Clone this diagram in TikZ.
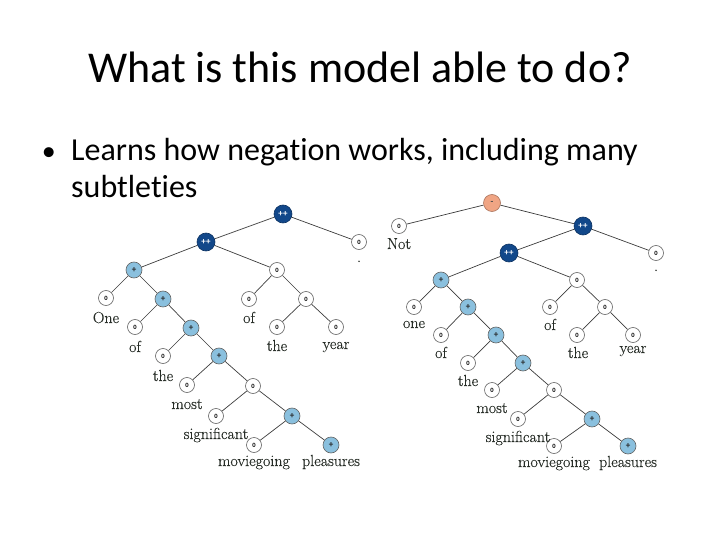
\documentclass[tikz,border=0pt]{standalone}
\usepackage{fontspec}
\setmainfont{Carlito}[Ligatures=NoCommon]
\newfontfamily\lmr{Latin Modern Roman}[FakeBold=0.3]
\definecolor{ppblue}{RGB}{18,72,138}
\definecolor{pblue}{RGB}{138,192,222}
\definecolor{negor}{RGB}{240,165,132}
\definecolor{lblc}{RGB}{38,44,38}
\definecolor{edgec}{RGB}{60,60,60}
\tikzset{
  nd/.style={circle,inner sep=0pt,draw=edgec!80,line width=0.6pt,font=\fontsize{9}{9}\selectfont\bfseries},
  zeronode/.style={nd,fill=white,minimum size=15pt,text=black,font=\fontsize{6.5}{6.5}\selectfont\bfseries},
  posnode/.style={nd,fill=pblue,minimum size=16pt,text=black!85},
  ppnode/.style={nd,fill=ppblue,draw=ppblue!70!black,minimum size=18pt,text=white},
  negnode/.style={nd,fill=negor,draw=negor!70!black,minimum size=17pt,text=black!70},
  lbl/.style={font=\lmr\fontsize{16}{18}\selectfont,text=lblc,anchor=base,inner sep=0pt},
  edge/.style={draw=edgec,line width=0.7pt}
}
\begin{document}
\begin{tikzpicture}[x=1pt,y=-1pt]
\useasboundingbox (0,0) rectangle (720,540);
% title and bullet
\node[anchor=base,font=\fontsize{44}{52}\selectfont] (title) at (360,83) {What is this model able to do?};
\node[anchor=base west,font=\fontsize{32}{38}\selectfont,inner sep=0pt] (b1) at (71,161) {Learns how negation works, including many};
\node[anchor=base east,font=\fontsize{28}{34}\selectfont,inner sep=0pt] (dot) at (56,161) {•};
\node[anchor=base west,font=\fontsize{32}{38}\selectfont,inner sep=0pt] (b2) at (71,197) {subtleties};
% ---------- left tree ----------
\node[ppnode] (Lr) at (283,214) {++};
\node[ppnode] (La) at (206,242) {++};
\node[zeronode] (Lp) at (359,242) {0};
\node[posnode] (Lb) at (134,270) {+};
\node[zeronode] (Lc) at (277,270) {0};
\node[zeronode] (L1) at (106,298) {0};
\node[posnode] (Ld) at (163,299) {+};
\node[zeronode] (L7) at (249,299) {0};
\node[zeronode] (Le) at (306,299) {0};
\node[zeronode] (L2) at (135,327) {0};
\node[posnode] (Lf) at (191,328) {+};
\node[zeronode] (L8) at (277,327) {0};
\node[zeronode] (L9) at (336,327) {0};
\node[zeronode] (L3) at (163,356) {0};
\node[posnode] (Lg) at (219,356) {+};
\node[zeronode] (L4) at (187,385) {0};
\node[zeronode] (Lh) at (253,386) {0};
\node[zeronode] (L5) at (216,416) {0};
\node[posnode] (Li) at (292,416) {+};
\node[zeronode] (L6) at (254,445) {0};
\node[posnode] (L10) at (331,445) {+};
\foreach \a/\b in {Lr/La,Lr/Lp,La/Lb,La/Lc,Lb/L1,Lb/Ld,Ld/L2,Ld/Lf,Lf/L3,Lf/Lg,Lg/L4,Lg/Lh,Lh/L5,Lh/Li,Li/L6,Li/L10,Lc/L7,Lc/Le,Le/L8,Le/L9}
  \draw[edge] (\a) -- (\b);
\node[lbl] (tLp) at (359,262) {.};
\node[lbl] (tL1) at (106,323) {One};
\node[lbl] (tL2) at (135,352) {of};
\node[lbl] (tL3) at (163,381) {the};
\node[lbl] (tL4) at (187,409) {most};
\node[lbl] (tL5) at (216,439) {significant};
\node[lbl] (tL6) at (254,466) {moviegoing};
\node[lbl] (tL10) at (331,466) {pleasures};
\node[lbl] (tL7) at (249,323) {of};
\node[lbl] (tL8) at (277,351) {the};
\node[lbl] (tL9) at (336,349) {year};
% ---------- right tree ----------
\node[negnode] (Rt) at (492,203) {-};
\node[zeronode] (R0) at (399,226) {0};
\node[ppnode] (Rr) at (583,226) {++};
\node[ppnode] (Ra) at (509,253) {++};
\node[zeronode] (Rp) at (656,253) {0};
\node[posnode] (Rb) at (441,280) {+};
\node[zeronode] (Rc) at (577,280) {0};
\node[zeronode] (R1) at (414,307) {0};
\node[posnode] (Rd) at (468,307) {+};
\node[zeronode] (R7) at (550,307) {0};
\node[zeronode] (Re) at (605,307) {0};
\node[zeronode] (R2) at (441,335) {0};
\node[posnode] (Rf) at (496,335) {+};
\node[zeronode] (R8) at (577,335) {0};
\node[zeronode] (R9) at (633,335) {0};
\node[zeronode] (R3) at (468,363) {0};
\node[posnode] (Rg) at (523,363) {+};
\node[zeronode] (R4) at (492,390) {0};
\node[zeronode] (Rh) at (554,390) {0};
\node[zeronode] (R5) at (518,419) {0};
\node[posnode] (Ri) at (592,419) {+};
\node[zeronode] (R6) at (554,446) {0};
\node[posnode] (R10) at (628,446) {+};
\foreach \a/\b in {Rt/R0,Rt/Rr,Rr/Ra,Rr/Rp,Ra/Rb,Ra/Rc,Rb/R1,Rb/Rd,Rd/R2,Rd/Rf,Rf/R3,Rf/Rg,Rg/R4,Rg/Rh,Rh/R5,Rh/Ri,Ri/R6,Ri/R10,Rc/R7,Rc/Re,Re/R8,Re/R9}
  \draw[edge] (\a) -- (\b);
\node[lbl] (tR0) at (399,249) {Not};
\node[lbl] (tRp) at (656,271) {.};
\node[lbl] (tR1) at (414,328) {one};
\node[lbl] (tR2) at (441,358) {of};
\node[lbl] (tR3) at (468,386) {the};
\node[lbl] (tR4) at (492,413) {most};
\node[lbl] (tR5) at (518,442) {significant};
\node[lbl] (tR6) at (554,467) {moviegoing};
\node[lbl] (tR10) at (628,467) {pleasures};
\node[lbl] (tR7) at (550,330) {of};
\node[lbl] (tR8) at (578,358) {the};
\node[lbl] (tR9) at (633,353) {year};
\end{tikzpicture}
\end{document}
